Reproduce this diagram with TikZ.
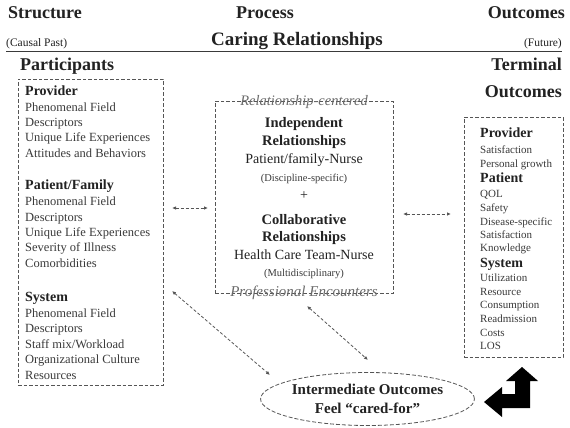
\documentclass[tikz,border=0pt]{standalone}
\usepackage{fontspec}
\setmainfont{Liberation Serif}
\usetikzlibrary{arrows.meta,shapes.geometric}
\definecolor{ink}{HTML}{222222}
\definecolor{soft}{HTML}{3A3A3A}
\definecolor{dash}{HTML}{555555}
\definecolor{ital}{HTML}{6A6A6A}
\begin{document}
\begin{tikzpicture}[x=1pt,y=-1pt,
  every node/.style={inner sep=0pt, text=ink},
  ln/.style={text height=0.7em, text depth=0.05em},
  head/.style={ln, font=\fontsize{18}{20}\selectfont\bfseries},
  small/.style={ln, font=\fontsize{11.5}{13}\selectfont},
  lbold/.style={ln, anchor=west, font=\fontsize{14}{16}\selectfont\bfseries},
  lreg/.style={ln, anchor=west, font=\fontsize{12.5}{14}\selectfont, text=soft},
  rbold/.style={ln, anchor=west, font=\fontsize{14}{16}\selectfont\bfseries},
  rreg/.style={ln, anchor=west, font=\fontsize{11}{12}\selectfont, text=soft},
  mbold/.style={ln, font=\fontsize{14.5}{16}\selectfont\bfseries},
  mreg/.style={ln, font=\fontsize{14}{16}\selectfont},
  msmall/.style={ln, font=\fontsize{10.5}{12}\selectfont, text=soft},
  ital/.style={ln, font=\fontsize{14.5}{16}\selectfont\itshape, text=ital},
  dbox/.style={draw=dash, line width=0.8pt, dash pattern=on 3.5pt off 2pt, rectangle},
  biarrow/.style={draw=dash, line width=0.8pt, dash pattern=on 3pt off 2pt, {Latex[length=4pt,width=3.5pt]}-{Latex[length=4pt,width=3.5pt]}}
]
\useasboundingbox[fill=white] (0,0) rectangle (570,428);

% top headings
\node[head, anchor=west] (structure) at (8,15) {Structure};
\node[head] (process) at (265,15) {Process};
\node[head, anchor=east] (outcomes) at (565,15) {Outcomes};
\node[small, anchor=west] (causal) at (6,43) {(Causal Past)};
\node[ln, font=\fontsize{19}{21}\selectfont\bfseries] (caring) at (297,42) {Caring Relationships};
\node[small, anchor=east] (future) at (562,43) {(Future)};
\coordinate (ulA) at (6,51);
\coordinate (ulB) at (562,51);
\draw[draw=soft, line width=0.9pt] (ulA) -- (ulB);

\node[head, anchor=west] (participants) at (20,67) {Participants};
\node[head, anchor=east] (terminal) at (562,67) {Terminal};
\node[head, anchor=east] (outcomes2) at (562,94) {Outcomes};

% left box
\node[dbox, minimum width=145pt, minimum height=306pt] (leftbox) at (90.5,232) {};
\node[lbold] (lp) at (25,92) {Provider};
\node[lreg] (lp1) at (25,108) {Phenomenal Field};
\node[lreg] (lp2) at (25,123) {Descriptors};
\node[lreg] (lp3) at (25,138) {Unique Life Experiences};
\node[lreg] (lp4) at (25,154) {Attitudes and Behaviors};
\node[lbold] (lf) at (25,186) {Patient/Family};
\node[lreg] (lf1) at (25,202) {Phenomenal Field};
\node[lreg] (lf2) at (25,218) {Descriptors};
\node[lreg] (lf3) at (25,233) {Unique Life Experiences};
\node[lreg] (lf4) at (25,248) {Severity of Illness};
\node[lreg] (lf5) at (25,264) {Comorbidities};
\node[lbold] (ls) at (25,298) {System};
\node[lreg] (ls1) at (25,314) {Phenomenal Field};
\node[lreg] (ls2) at (25,329) {Descriptors};
\node[lreg] (ls3) at (25,345) {Staff mix/Workload};
\node[lreg] (ls4) at (25,360) {Organizational Culture};
\node[lreg] (ls5) at (25,376) {Resources};

% middle box
\node[dbox, minimum width=178pt, minimum height=192pt] (midbox) at (304,197) {};
\node[ital] (relc) at (304,102) {Relationship-centered};
\node[ital, font=\fontsize{15}{17}\selectfont\itshape] (profe) at (304,293) {Professional Encounters};
\node[mbold] (m1) at (304,124) {Independent};
\node[mbold] (m2) at (304,142) {Relationships};
\node[mreg] (m3) at (304,160) {Patient/family-Nurse};
\node[msmall] (m4) at (304,178) {(Discipline-specific)};
\node[mreg] (m5) at (304,196) {+};
\node[mbold] (m6) at (304,221) {Collaborative};
\node[mbold] (m7) at (304,238) {Relationships};
\node[mreg] (m8) at (304,256) {Health Care Team-Nurse};
\node[msmall] (m9) at (304,273) {(Multidisciplinary)};

% right box
\node[dbox, minimum width=99pt, minimum height=240pt] (rightbox) at (513.5,237) {};
\node[rbold] (rp) at (480,134) {Provider};
\node[rreg] (rp1) at (480,150) {Satisfaction};
\node[rreg] (rp2) at (480,164) {Personal growth};
\node[rbold] (rt) at (480,179) {Patient};
\node[rreg] (rt1) at (480,194) {QOL};
\node[rreg] (rt2) at (480,208) {Safety};
\node[rreg] (rt3) at (480,222) {Disease-specific};
\node[rreg] (rt4) at (480,235) {Satisfaction};
\node[rreg] (rt5) at (480,248) {Knowledge};
\node[rbold] (rs) at (480,264) {System};
\node[rreg] (rs1) at (480,278) {Utilization};
\node[rreg] (rs2) at (480,292) {Resource};
\node[rreg] (rs3) at (480,305) {Consumption};
\node[rreg] (rs4) at (480,319) {Readmission};
\node[rreg] (rs5) at (480,333) {Costs};
\node[rreg] (rs6) at (480,346) {LOS};

% ellipse
\node[ellipse, draw=dash, line width=0.8pt, dash pattern=on 4pt off 2pt,
      minimum width=201pt, minimum height=53pt, align=center,
      font=\fontsize{15}{19}\selectfont\bfseries] (imo) at (367.5,399)
      {Intermediate Outcomes\\Feel “cared-for”};

% connectors
\coordinate (a1) at (172,208);
\coordinate (a2) at (208,208);
\coordinate (b1) at (403,214);
\coordinate (b2) at (451,214);
\coordinate (c1) at (172,291);
\coordinate (c2) at (270,375);
\coordinate (d1) at (307,306);
\coordinate (d2) at (368,360);
\draw[biarrow] (a1) -- (a2);
\draw[biarrow] (b1) -- (b2);
\draw[biarrow] (c1) -- (c2);
\draw[biarrow] (d1) -- (d2);

% block arrow
\fill[black] (522,367) -- (538,381) -- (530,381) -- (530,408) -- (502,408)
  -- (502,417) -- (484,402) -- (502,387) -- (502,394) -- (515,394)
  -- (515,381) -- (506,381) -- cycle;
\end{tikzpicture}
\end{document}
